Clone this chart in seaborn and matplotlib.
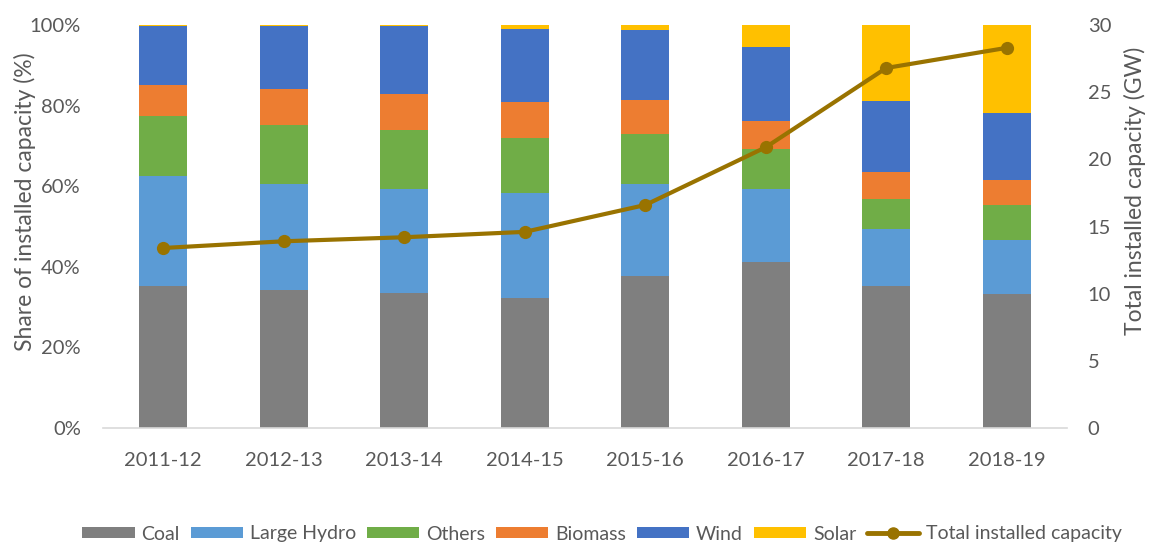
import numpy as np
import pandas as pd
import matplotlib
matplotlib.use("Agg")
import matplotlib.pyplot as plt
from matplotlib.patches import Patch
from matplotlib.lines import Line2D
from matplotlib.ticker import FuncFormatter
import seaborn as sns

# Fiscal years
years = ["2011-12", "2012-13", "2013-14", "2014-15", "2015-16", "2016-17", "2017-18", "2018-19"]

# Share of installed capacity by source (%)
coal = [35.2, 34.2, 33.6, 32.3, 37.8, 41.3, 35.2, 33.3]
large_hydro = [27.3, 26.4, 25.7, 26.1, 22.8, 18.0, 14.3, 13.4]
others = [15.0, 14.6, 14.7, 13.6, 12.4, 9.9, 7.2, 8.6]
biomass = [7.6, 8.9, 9.0, 9.0, 8.3, 7.0, 6.8, 6.3]
wind = [14.6, 15.6, 16.7, 18.1, 17.5, 18.4, 17.6, 16.5]
solar = [0.3, 0.3, 0.3, 0.9, 1.2, 5.4, 18.9, 21.9]

# Total installed capacity (GW)
total_gw = [13.4, 13.9, 14.2, 14.6, 16.6, 20.9, 26.8, 28.3]

series_names = ["Coal", "Large Hydro", "Others", "Biomass", "Wind", "Solar"]
series_values = [coal, large_hydro, others, biomass, wind, solar]
colors = ["#7F7F7F", "#5B9BD5", "#70AD47", "#ED7D31", "#4472C4", "#FFC000"]
line_color = "#997300"
text_color = "#595959"

sns.set_theme(style="white")
plt.rcParams["font.family"] = ["Lato", "DejaVu Sans"]

fig = plt.figure(figsize=(11.49, 5.43), dpi=100)
ax = fig.add_axes([103 / 1149, 1 - 428 / 543, (1067 - 103) / 1149, (428 - 25) / 543])

# Stacked bars: draw cumulative totals from the top layer down
df = pd.DataFrame(dict(zip(series_names, series_values)), index=years)
cum = df.cumsum(axis=1)
for name, color in reversed(list(zip(series_names, colors))):
    sns.barplot(x=years, y=cum[name].values, color=color, width=0.4,
                saturation=1, ax=ax, edgecolor="none", linewidth=0)

ax.set_xlim(-0.5, 7.5)
ax.set_ylim(0, 100)
ax.set_yticks(np.arange(0, 101, 20))
ax.yaxis.set_major_formatter(FuncFormatter(lambda v, p: f"{v:.0f}%"))
ax.set_ylabel("Share of installed capacity (%)", fontsize=16.5, color=text_color)
ax.yaxis.set_label_coords(-0.0695, 0.561)
ax.tick_params(axis="both", labelsize=14.5, colors=text_color, length=0)
ax.tick_params(axis="x", pad=17)
ax.tick_params(axis="y", pad=16)
for s in ["top", "left", "right"]:
    ax.spines[s].set_visible(False)
ax.spines["bottom"].set_color("#D9D9D9")
ax.spines["bottom"].set_linewidth(1.2)

# Total capacity line on secondary axis
ax2 = ax.twinx()
sns.lineplot(x=np.arange(len(years)), y=total_gw, ax=ax2, color=line_color,
             linewidth=3, marker="o", markersize=9.5, markeredgewidth=0)
ax2.set_ylim(0, 30)
ax2.set_yticks(np.arange(0, 31, 5))
ax2.set_ylabel("Total installed capacity (GW)", fontsize=16.5, color=text_color)
ax2.yaxis.set_label_coords(1.059, 0.588)
ax2.tick_params(axis="y", labelsize=14.5, colors=text_color, length=0, pad=15)
for s in ["top", "left", "right", "bottom"]:
    ax2.spines[s].set_visible(False)
ax2.grid(False)
ax.grid(False)

handles = [Patch(facecolor=c, edgecolor="none") for c in colors]
handles.append(Line2D([0], [0], color=line_color, lw=3.5, marker="o", markersize=8))
labels = series_names + ["Total installed capacity"]
fig.legend(handles, labels, loc="center", bbox_to_anchor=(0.524, 1 - 534 / 543), ncol=7,
           frameon=False, fontsize=14, labelcolor=text_color, handlelength=2.7,
           handleheight=0.5, handletextpad=0.35, columnspacing=0.55)

fig.savefig("out.png", dpi=100)
